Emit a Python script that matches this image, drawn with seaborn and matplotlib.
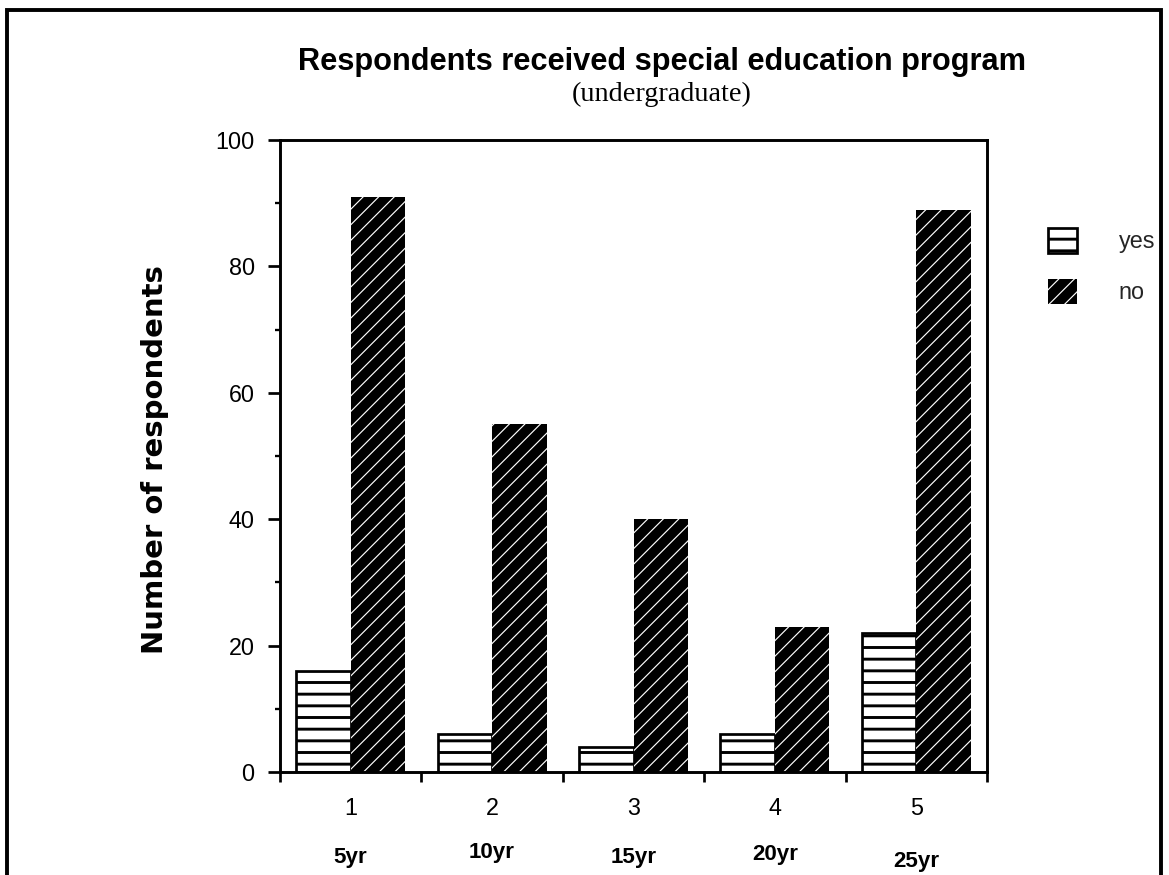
import matplotlib
matplotlib.use("Agg")
import matplotlib.pyplot as plt
import seaborn as sns
import pandas as pd
from matplotlib.patches import Rectangle, Patch
from matplotlib.ticker import MultipleLocator, FixedLocator

# ---- data ----
groups = ["1", "2", "3", "4", "5"]
year_labels = ["5yr", "10yr", "15yr", "20yr", "25yr"]
yes_values = [16, 6, 4, 6, 22]
no_values = [91, 55, 40, 23, 89]
series = ["yes", "no"]

df = pd.DataFrame({
    "group": groups * 2,
    "answer": ["yes"] * len(groups) + ["no"] * len(groups),
    "count": yes_values + no_values,
})

sns.set_theme(style="white")
plt.rcParams["font.family"] = ["Liberation Sans", "DejaVu Sans"]
plt.rcParams["hatch.linewidth"] = 1.4


def set_hlw(p, w):
    if hasattr(p, "set_hatch_linewidth"):
        p.set_hatch_linewidth(w)
    else:
        p._hatch_linewidth = w


DPI = 140
fig = plt.figure(figsize=(1169 / DPI, 875 / DPI), dpi=DPI)
ax = fig.add_axes([280 / 1169, 1 - 772 / 875, (987 - 280) / 1169, (772 - 140) / 875])

sns.barplot(data=df, x="group", y="count", hue="answer", hue_order=series,
            order=groups, width=0.77, ax=ax, legend=False,
            palette={"yes": "white", "no": "black"}, saturation=1)

n = len(groups)
for i, p in enumerate(ax.patches[:2 * n]):
    if i < n:
        p.set_facecolor("white")
        p.set_edgecolor("black")
        p.set_linewidth(1.4)
        p.set_hatch("--")
        set_hlw(p, 1.5)
    else:
        p.set_facecolor("black")
        p.set_edgecolor("white")
        p.set_linewidth(0)
        p.set_hatch("///")
        set_hlw(p, 0.6)

ax.set_ylim(0, 100)
ax.set_xlim(-0.5, n - 0.5)
ax.yaxis.set_major_locator(MultipleLocator(20))
ax.yaxis.set_minor_locator(MultipleLocator(10))
ax.set_xticks(range(n), labels=groups)
ax.xaxis.set_minor_locator(FixedLocator([i - 0.5 for i in range(n + 1)]))
ax.tick_params(axis="x", which="major", length=0, pad=13, labelsize=12, colors="black")
ax.tick_params(axis="x", which="minor", length=5, width=1.4, direction="out", bottom=True, color="black")
ax.tick_params(axis="y", which="major", length=6, width=1.4, direction="out", left=True,
               pad=7, labelsize=12, colors="black")
ax.tick_params(axis="y", which="minor", length=2.5, width=1.2, direction="out", left=True, color="black")
for s in ax.spines.values():
    s.set_visible(True)
    s.set_color("black")
    s.set_linewidth(1.5)
ax.set_xlabel("")
ax.set_ylabel("")

# year labels under numbers
year_offsets = [0, 0.008, 0, 0.004, -0.006]
for i, (lab, off) in enumerate(zip(year_labels, year_offsets)):
    ax.text(i, -0.135 + off, lab, transform=ax.get_xaxis_transform(),
            ha="center", va="center", fontsize=11.5, fontweight="bold", color="black")

# y label
fig.text(155 / 1169, 1 - 460 / 875, "Number of respondents", rotation=90,
         ha="center", va="center", fontsize=15, fontweight="bold",
         family=["DejaVu Sans"], color="black")

# title
fig.text(662 / 1169, 1 - 62 / 875, "Respondents received special education program",
         ha="center", va="center", fontsize=15.8, fontweight="bold", color="black")
fig.text(662 / 1169, 1 - 94 / 875, "(undergraduate)", ha="center", va="center",
         fontsize=14.5, family=["Liberation Serif"], color="black")

# legend
handles = [Patch(facecolor="white", edgecolor="black", hatch="--", linewidth=1.4, label="yes"),
           Patch(facecolor="black", edgecolor="white", hatch="///", linewidth=0, label="no")]
leg = fig.legend(handles=handles, loc="center left",
                 bbox_to_anchor=(1036 / 1169, 1 - 266 / 875), frameon=False,
                 fontsize=12, handlelength=1.25, handleheight=1.25, labelspacing=1.1,
                 handletextpad=1.8, borderpad=0)
for h, w in zip(leg.legend_handles, [1.5, 0.6]):
    set_hlw(h, w)

# figure frame
fig.patches.append(Rectangle((7 / 1169, -0.05), (1161 - 7) / 1169, 1.05 - 10 / 875,
                             transform=fig.transFigure, fill=False,
                             edgecolor="black", linewidth=2))

fig.savefig("out.png", dpi=DPI)
